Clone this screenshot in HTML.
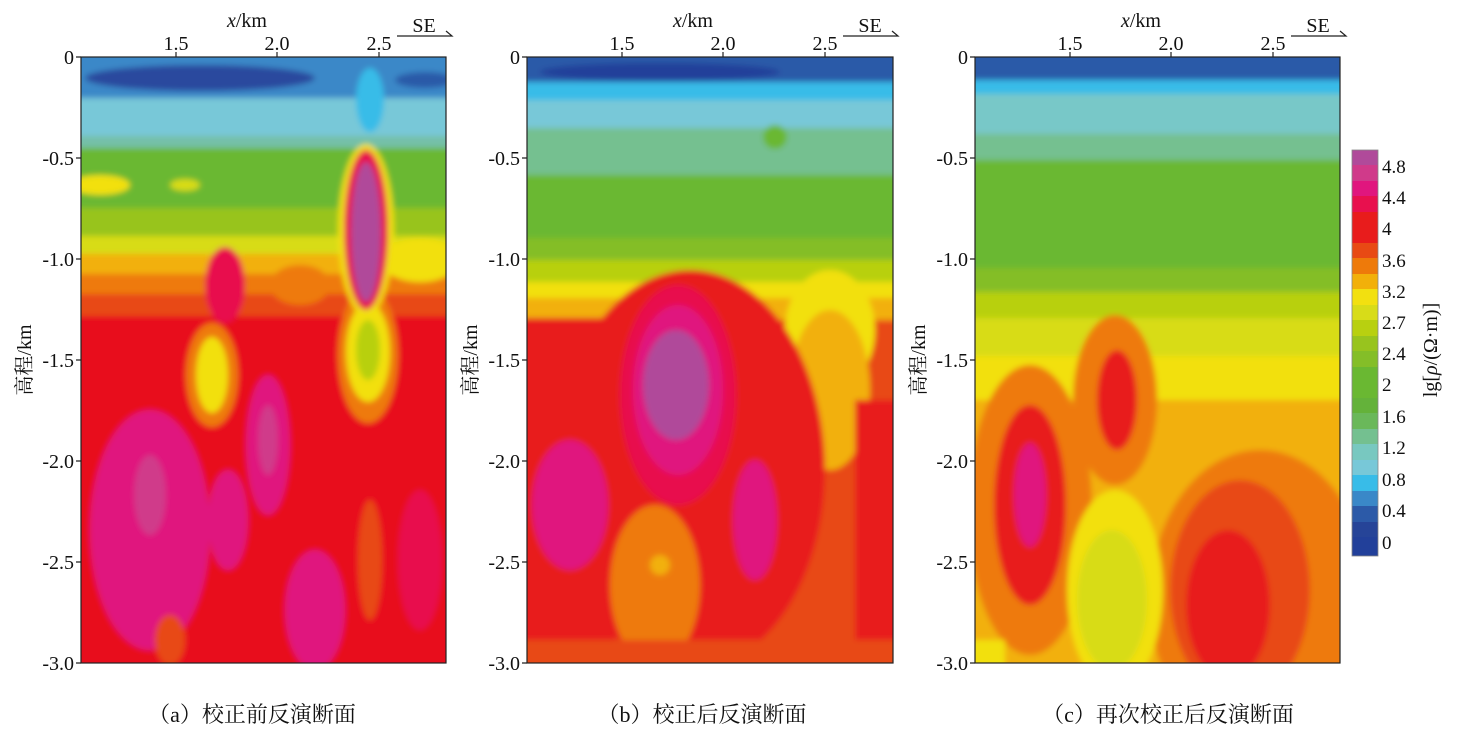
<!DOCTYPE html>
<html><head><meta charset="utf-8"><style>
html,body{margin:0;padding:0;background:#fff}
svg{display:block}
text{font-family:"Liberation Serif","Noto Serif CJK SC",serif;fill:#111}
</style></head><body>
<svg width="1458" height="734" viewBox="0 0 1458 734" xmlns="http://www.w3.org/2000/svg">
<defs>
<filter id="bl" x="-5%" y="-5%" width="110%" height="110%"><feGaussianBlur stdDeviation="3"/></filter>
<clipPath id="ca"><rect x="81" y="57" width="365" height="606"/></clipPath>
<clipPath id="cb"><rect x="527" y="57" width="366" height="606"/></clipPath>
<clipPath id="cc"><rect x="975" y="57" width="365" height="606"/></clipPath>
</defs>

<!-- Panel A -->
<g clip-path="url(#ca)"><g filter="url(#bl)">
<rect x="60" y="40" width="410" height="640" fill="#e8101e"/>
<rect x="60" y="40" width="410" height="65" fill="#3a88c8"/>
<ellipse cx="200" cy="78" rx="115" ry="13" fill="#2a4a9e"/>
<ellipse cx="425" cy="80" rx="30" ry="8" fill="#2c5aa8"/>
<rect x="60" y="98" width="410" height="40" fill="#78c8d8"/>
<ellipse cx="370" cy="100" rx="14" ry="32" fill="#38bce8"/>
<rect x="60" y="136" width="410" height="12" fill="#74c0a8"/>
<rect x="60" y="148" width="410" height="62" fill="#6ab832"/>
<rect x="60" y="208" width="410" height="30" fill="#98c41e"/>
<rect x="60" y="236" width="410" height="20" fill="#d8dc18"/>
<rect x="60" y="254" width="410" height="22" fill="#f2b00a"/>
<rect x="60" y="274" width="410" height="22" fill="#ee7a0a"/>
<rect x="60" y="294" width="410" height="22" fill="#e84a14"/>
<ellipse cx="100" cy="185" rx="30" ry="10" fill="#f2e010"/>
<ellipse cx="185" cy="185" rx="15" ry="6" fill="#d8dc18"/>
<ellipse cx="420" cy="260" rx="40" ry="22" fill="#f2e010"/>
<ellipse cx="300" cy="285" rx="30" ry="20" fill="#ee7a0a"/>
<ellipse cx="225" cy="285" rx="20" ry="38" fill="#e8104e"/>
<ellipse cx="212" cy="375" rx="26" ry="52" fill="#ee7a0a"/>
<ellipse cx="212" cy="375" rx="16" ry="38" fill="#f2e010"/>
<ellipse cx="368" cy="355" rx="30" ry="68" fill="#ee7a0a"/>
<ellipse cx="368" cy="352" rx="22" ry="50" fill="#f2e010"/>
<ellipse cx="368" cy="350" rx="12" ry="30" fill="#b8d010"/>
<ellipse cx="150" cy="530" rx="60" ry="120" fill="#e0167e"/>
<ellipse cx="150" cy="495" rx="16" ry="40" fill="#d03a8a"/>
<ellipse cx="268" cy="445" rx="22" ry="70" fill="#e0167e"/>
<ellipse cx="268" cy="440" rx="10" ry="35" fill="#d03a8a"/>
<ellipse cx="228" cy="520" rx="20" ry="50" fill="#e0167e"/>
<ellipse cx="315" cy="610" rx="30" ry="60" fill="#e0167e"/>
<ellipse cx="420" cy="560" rx="22" ry="70" fill="#e8104e"/>
<ellipse cx="370" cy="560" rx="12" ry="60" fill="#e84a14"/>
<ellipse cx="170" cy="640" rx="15" ry="25" fill="#e84a14"/>
<ellipse cx="366" cy="230" rx="28" ry="86" fill="#f2e010"/>
<ellipse cx="366" cy="230" rx="22" ry="80" fill="#e8104e"/>
<ellipse cx="366" cy="232" rx="15" ry="70" fill="#b04a9a"/>
</g></g>
<rect x="81" y="57" width="365" height="606" fill="none" stroke="#222" stroke-width="1.2"/>

<!-- Panel B -->
<g clip-path="url(#cb)"><g filter="url(#bl)">
<rect x="505" y="40" width="410" height="640" fill="#e84a14"/>
<rect x="505" y="40" width="410" height="45" fill="#2c5aa8"/>
<ellipse cx="660" cy="72" rx="120" ry="9" fill="#22409a"/>
<rect x="505" y="82" width="410" height="20" fill="#38bce8"/>
<rect x="505" y="100" width="410" height="30" fill="#78c8d8"/>
<rect x="505" y="128" width="410" height="48" fill="#74c090"/>
<ellipse cx="775" cy="137" rx="12" ry="12" fill="#6ab832"/>
<rect x="505" y="175" width="410" height="65" fill="#6ab832"/>
<rect x="505" y="238" width="410" height="24" fill="#84be28"/>
<rect x="505" y="260" width="410" height="24" fill="#b8d010"/>
<rect x="505" y="282" width="410" height="18" fill="#f2e010"/>
<rect x="505" y="298" width="410" height="22" fill="#f2b00a"/>
<ellipse cx="830" cy="330" rx="45" ry="60" fill="#f2e010"/>
<ellipse cx="830" cy="390" rx="40" ry="80" fill="#f2b00a"/>
<rect x="505" y="318" width="110" height="350" fill="#e81c1c"/>
<ellipse cx="690" cy="470" rx="135" ry="200" fill="#e81c1c"/>
<rect x="855" y="400" width="60" height="280" fill="#e81c1c"/>
<ellipse cx="570" cy="505" rx="38" ry="65" fill="#e0167e"/>
<ellipse cx="755" cy="520" rx="22" ry="60" fill="#e0167e"/>
<ellipse cx="678" cy="395" rx="58" ry="110" fill="#e8104e"/>
<ellipse cx="678" cy="390" rx="45" ry="85" fill="#e0167e"/>
<ellipse cx="676" cy="385" rx="33" ry="55" fill="#b04a9a"/>
<ellipse cx="655" cy="585" rx="45" ry="80" fill="#ee7a0a"/>
<ellipse cx="660" cy="565" rx="10" ry="10" fill="#f2b00a"/>
<rect x="505" y="640" width="410" height="40" fill="#e84a14"/>
</g></g>
<rect x="527" y="57" width="366" height="606" fill="none" stroke="#222" stroke-width="1.2"/>

<!-- Panel C -->
<g clip-path="url(#cc)"><g filter="url(#bl)">
<rect x="955" y="40" width="410" height="640" fill="#f2b00a"/>
<rect x="955" y="40" width="410" height="42" fill="#2c5aa8"/>
<rect x="955" y="80" width="410" height="16" fill="#38bce8"/>
<rect x="955" y="94" width="410" height="42" fill="#78c8c8"/>
<rect x="955" y="134" width="410" height="28" fill="#74c090"/>
<rect x="955" y="160" width="410" height="110" fill="#6ab832"/>
<rect x="955" y="268" width="410" height="26" fill="#84be28"/>
<rect x="955" y="292" width="410" height="28" fill="#b8d010"/>
<rect x="955" y="318" width="410" height="40" fill="#d8dc18"/>
<rect x="955" y="356" width="410" height="44" fill="#f2e010"/>
<ellipse cx="1030" cy="510" rx="62" ry="145" fill="#ee7a0a"/>
<ellipse cx="1030" cy="505" rx="36" ry="100" fill="#e81c1c"/>
<ellipse cx="1030" cy="495" rx="16" ry="52" fill="#e0167e"/>
<ellipse cx="1115" cy="400" rx="42" ry="85" fill="#ee7a0a"/>
<ellipse cx="1117" cy="400" rx="20" ry="50" fill="#e81c1c"/>
<ellipse cx="1260" cy="600" rx="110" ry="150" fill="#ee7a0a"/>
<ellipse cx="1240" cy="590" rx="70" ry="110" fill="#e84a14"/>
<ellipse cx="1228" cy="605" rx="42" ry="75" fill="#e81c1c"/>
<ellipse cx="1115" cy="590" rx="48" ry="100" fill="#f2e010"/>
<ellipse cx="1112" cy="600" rx="35" ry="70" fill="#d8dc18"/>
<rect x="955" y="640" width="50" height="40" fill="#f2e010"/>
</g></g>
<rect x="975" y="57" width="365" height="606" fill="none" stroke="#222" stroke-width="1.2"/>

<!-- Axes text -->
<g font-size="20">
<g text-anchor="end">
<text x="74" y="64">0</text><text x="74" y="165">-0.5</text><text x="74" y="266">-1.0</text><text x="74" y="367">-1.5</text><text x="74" y="468">-2.0</text><text x="74" y="569">-2.5</text><text x="74" y="670">-3.0</text>
<text x="520" y="64">0</text><text x="520" y="165">-0.5</text><text x="520" y="266">-1.0</text><text x="520" y="367">-1.5</text><text x="520" y="468">-2.0</text><text x="520" y="569">-2.5</text><text x="520" y="670">-3.0</text>
<text x="968" y="64">0</text><text x="968" y="165">-0.5</text><text x="968" y="266">-1.0</text><text x="968" y="367">-1.5</text><text x="968" y="468">-2.0</text><text x="968" y="569">-2.5</text><text x="968" y="670">-3.0</text>
</g>
<g text-anchor="middle">
<text x="176" y="50">1.5</text><text x="277" y="50">2.0</text><text x="379" y="50">2.5</text>
<text x="622" y="50">1.5</text><text x="723" y="50">2.0</text><text x="825" y="50">2.5</text>
<text x="1070" y="50">1.5</text><text x="1171" y="50">2.0</text><text x="1273" y="50">2.5</text>
<text x="247" y="27"><tspan font-style="italic">x</tspan>/km</text>
<text x="693" y="27"><tspan font-style="italic">x</tspan>/km</text>
<text x="1141" y="27"><tspan font-style="italic">x</tspan>/km</text>
<text x="424" y="32">SE</text><text x="870" y="32">SE</text><text x="1318" y="32">SE</text>
</g>
<text transform="translate(31,360) rotate(-90)" text-anchor="middle">高程/km</text>
<text transform="translate(477,360) rotate(-90)" text-anchor="middle">高程/km</text>
<text transform="translate(925,360) rotate(-90)" text-anchor="middle">高程/km</text>
</g>
<g stroke="#222" stroke-width="1.2" fill="none">
<path d="M397 36H452l-6 -5"/><path d="M843 36H898l-6 -5"/><path d="M1291 36H1346l-6 -5"/>
<path d="M76 57h5M76 158h5M76 259h5M76 360h5M76 461h5M76 562h5M76 663h5"/>
<path d="M522 57h5M522 158h5M522 259h5M522 360h5M522 461h5M522 562h5M522 663h5"/>
<path d="M970 57h5M970 158h5M970 259h5M970 360h5M970 461h5M970 562h5M970 663h5"/>
<path d="M176 52v5M277 52v5M379 52v5M622 52v5M723 52v5M825 52v5M1070 52v5M1171 52v5M1273 52v5"/>
</g>

<!-- Colorbar -->
<g>
<rect x="1352" y="150" width="26" height="16" fill="#b04a9a"/>
<rect x="1352" y="165" width="26" height="16" fill="#d03a8a"/>
<rect x="1352" y="181" width="26" height="16" fill="#e0167e"/>
<rect x="1352" y="196" width="26" height="16" fill="#e8104e"/>
<rect x="1352" y="212" width="26" height="32" fill="#e81c1c"/>
<rect x="1352" y="243" width="26" height="16" fill="#e84a14"/>
<rect x="1352" y="258" width="26" height="16" fill="#ee7a0a"/>
<rect x="1352" y="274" width="26" height="16" fill="#f2b00a"/>
<rect x="1352" y="289" width="26" height="16" fill="#f2e010"/>
<rect x="1352" y="305" width="26" height="16" fill="#d8dc18"/>
<rect x="1352" y="320" width="26" height="16" fill="#b8d010"/>
<rect x="1352" y="336" width="26" height="16" fill="#98c41e"/>
<rect x="1352" y="351" width="26" height="16" fill="#84be28"/>
<rect x="1352" y="367" width="26" height="32" fill="#6ab832"/>
<rect x="1352" y="398" width="26" height="16" fill="#64b23a"/>
<rect x="1352" y="413" width="26" height="16" fill="#6ab85a"/>
<rect x="1352" y="429" width="26" height="16" fill="#74c090"/>
<rect x="1352" y="444" width="26" height="16" fill="#78c8c0"/>
<rect x="1352" y="460" width="26" height="16" fill="#78c8d8"/>
<rect x="1352" y="475" width="26" height="16" fill="#38bce8"/>
<rect x="1352" y="491" width="26" height="16" fill="#3a88c8"/>
<rect x="1352" y="506" width="26" height="16" fill="#2c5aa8"/>
<rect x="1352" y="522" width="26" height="16" fill="#264498"/>
<rect x="1352" y="537" width="26" height="19" fill="#22409a"/>
<rect x="1352" y="150" width="26" height="406" fill="none" stroke="#888" stroke-width="0.8"/>
</g>
<g font-size="19">
<text x="1382" y="173">4.8</text><text x="1382" y="204">4.4</text><text x="1382" y="235">4</text><text x="1382" y="267">3.6</text><text x="1382" y="298">3.2</text><text x="1382" y="329">2.7</text><text x="1382" y="360">2.4</text><text x="1382" y="391">2</text><text x="1382" y="423">1.6</text><text x="1382" y="454">1.2</text><text x="1382" y="486">0.8</text><text x="1382" y="517">0.4</text><text x="1382" y="549">0</text>
<text transform="translate(1437,350) rotate(-90)" text-anchor="middle" font-size="20">lg[<tspan font-style="italic">ρ</tspan>/(Ω·m)]</text>
</g>

<!-- Captions -->
<g font-size="22" text-anchor="middle">
<text x="252" y="722">（a）校正前反演断面</text>
<text x="702" y="722">（b）校正后反演断面</text>
<text x="1168" y="722">（c）再次校正后反演断面</text>
</g>
</svg>
</body></html>
